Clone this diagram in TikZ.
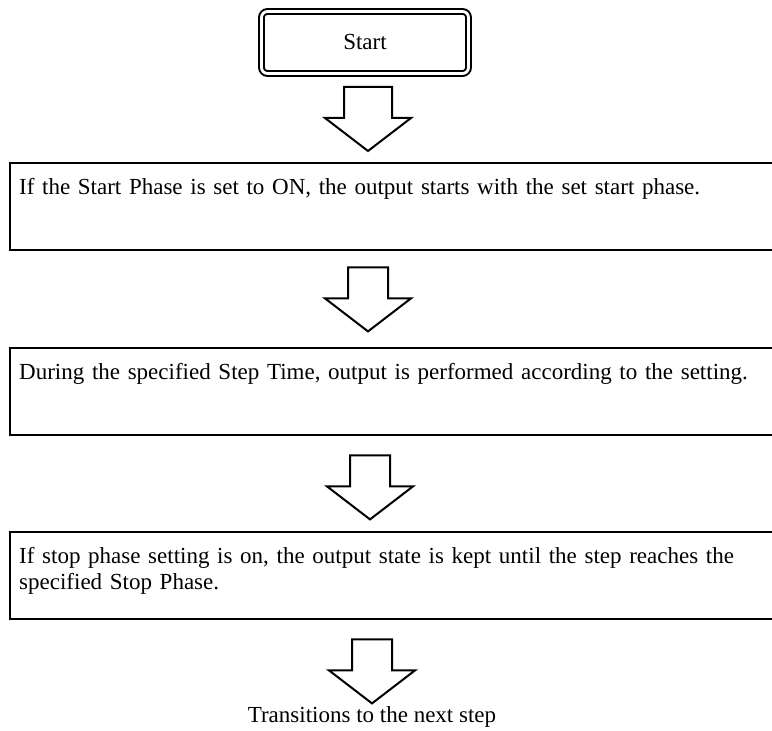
\documentclass[tikz,border=0pt]{standalone}
\usepackage{fontspec}
\setmainfont{Liberation Serif}
\usetikzlibrary{calc}

\tikzset{
  pics/bigarrow/.style={code={
    \draw[line width=1pt, line join=miter] (-#1,0) -- (#1,0) -- (#1,31) -- (43,31) -- (0,64) -- (-43,31) -- (-#1,31) -- cycle;
  }},
  pics/bigarrow/.default=20,
  stepbox/.style={draw, line width=1.2pt, anchor=north west, align=left, text width=385pt,
    inner xsep=4.5pt, inner ysep=0pt, text height=15.5pt, text depth=28pt},
  startbox/.style={draw, rounded corners=3pt, double, double distance=1.4pt, line width=1pt,
    minimum width=103.5pt, minimum height=31pt},
}

\begin{document}
\begin{tikzpicture}[x=0.5pt, y=-0.5pt, font=\fontsize{11.5}{13}\selectfont]

\useasboundingbox (0,0) rectangle (772,731);
\clip (0,0) rectangle (772,731);

% Start
\node[startbox] (start) at (365,42.5) {Start};

% Steps
\node[stepbox] (phaseon) at (9,162) {If the Start Phase is set to ON, the output starts with the set start phase.};
\node[stepbox] (steptime) at (9,347) {During the specified Step Time, output is performed according to the setting.};
\node[stepbox] (phaseoff) at (9,531) {If stop phase setting is on, the output state is kept until the step reaches the\\specified Stop Phase.};

% End text
\node (nextstep) at (372,717) {Transitions to the next step};

% Block arrows
\coordinate (axis) at (368,0);
\pic at ($(axis |- start.south)+(0,12.5)$) {bigarrow=24};
\pic at ($(axis |- phaseon.south)+(0,16)$) {bigarrow};
\pic at ($(axis |- steptime.south)+(2,19)$) {bigarrow};
\pic at ($(axis |- phaseoff.south)+(4,19)$) {bigarrow};

\end{tikzpicture}
\end{document}
